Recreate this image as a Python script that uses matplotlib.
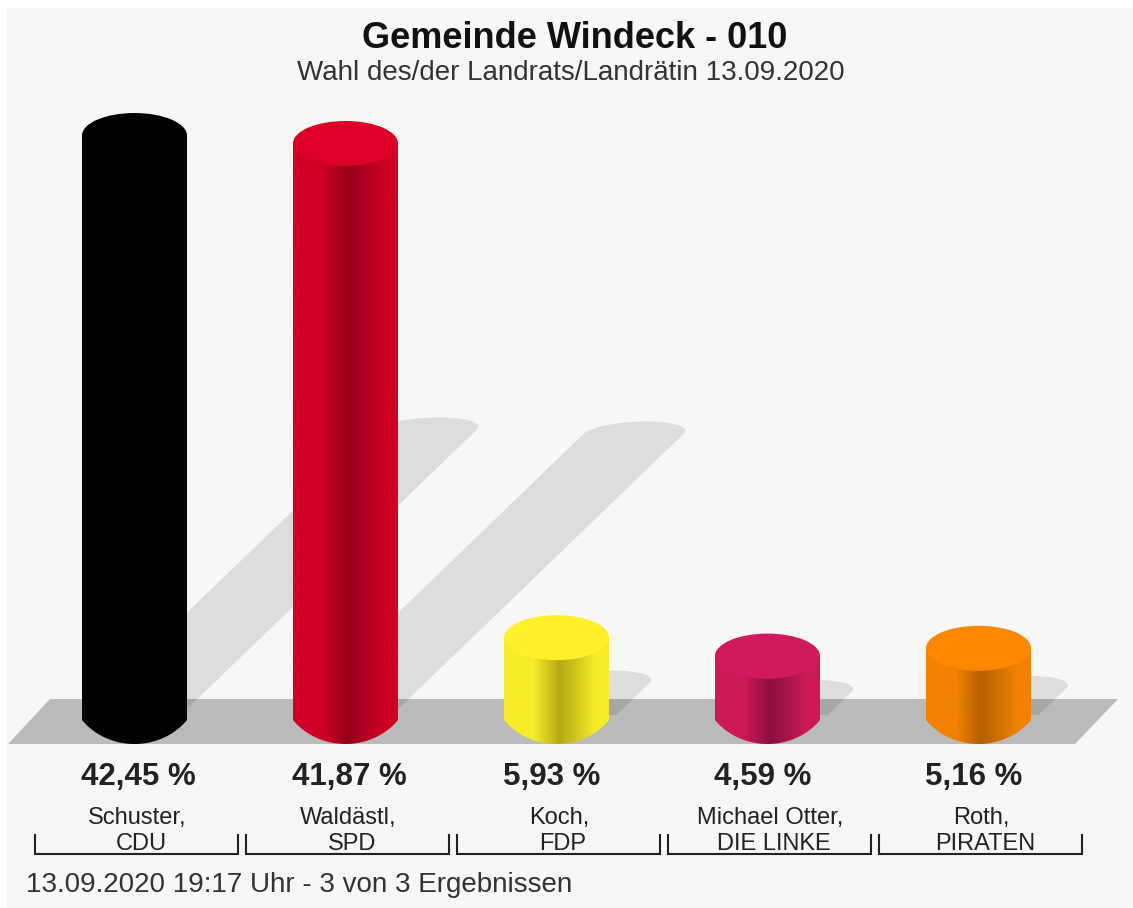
import numpy as np
import matplotlib
matplotlib.use('Agg')
import matplotlib.pyplot as plt
from matplotlib.patches import Polygon, Rectangle, Ellipse
from matplotlib.colors import LinearSegmentedColormap

plt.rcParams['font.family'] = ['Liberation Sans', 'DejaVu Sans']

# Data
candidates = ['Schuster,', 'Waldästl,', 'Koch,', 'Michael Otter,', 'Roth,']
parties = ['CDU', 'SPD', 'FDP', 'DIE LINKE', 'PIRATEN']
values = [42.45, 41.87, 5.93, 4.59, 5.16]
value_labels = ['42,45 %', '41,87 %', '5,93 %', '4,59 %', '5,16 %']
top_colors = ['#000000', '#dc0027', '#fff02a', '#d11a5b', '#ff8800']
side_colors = ['#000000', '#cf0024', '#f7ec28', '#cc1a58', '#f28200']
dark_colors = ['#000000', '#960018', '#b5a818', '#8c1040', '#b56000']

title = 'Gemeinde Windeck - 010'
subtitle = 'Wahl des/der Landrats/Landrätin 13.09.2020'
footer = '13.09.2020 19:17 Uhr - 3 von 3 Ergebnissen'

# Pixel layout of the picture
first_x = 134.5
step = 211
half_w = 52.5
ell_h = 22.5
bottom = 744
px_per_pct = 13.75
min_h = 47.3


def bar_height(v):
    return min_h + px_per_pct * v


fig = plt.figure(figsize=(11.33, 9.08), dpi=100, facecolor='white')
ax = fig.add_axes([0, 0, 1, 1])

# panel and floor
ax.add_patch(Rectangle((7, 8), 1126, 900, color='#f7f7f7', lw=0, zorder=0))
ax.add_patch(Polygon([(8, 744), (50, 699), (1118, 699), (1075, 744)], color='#bbbbbb', lw=0, zorder=1))

for i, v in enumerate(values):
    cx = first_x + i * step
    h = bar_height(v)

    # shadow falling to the back right, its foot stays hidden behind the bar
    tip_x = cx + 29.5 + 0.496 * h
    tip_y = 747.5 - 0.504 * h
    t = np.linspace(0, np.pi, 40)
    cap_x = tip_x - 50 + 50 * np.cos(t) + 12 * np.sin(t)
    cap_y = tip_y - 12 * np.sin(t)
    left_x = tip_x - 100
    pts = list(zip(cap_x, cap_y))
    if left_x > cx:
        pts.append((cx, tip_y + (left_x - cx) * 0.964))
    pts.append((cx, 715))
    pts.append((tip_x - (715 - tip_y) / 0.964, 715))
    ax.add_patch(Polygon(pts, color='black', alpha=0.1, lw=0, zorder=2))

    # cylinder side with gradient, bottom edge is a flat arc with a kink at the sides
    top_y = bottom - h + ell_h
    base_y = bottom - 24
    u = np.linspace(-1, 1, 80)
    arc = (np.sqrt(1 - (0.8 * u) ** 2) - 0.6) / 0.4
    body = [(cx - half_w, top_y)] + [(cx + half_w * a, base_y + 24 * b) for a, b in zip(u, arc)] + [(cx + half_w, top_y)]
    side = Polygon(body, closed=True, fc='none', ec='none', zorder=3)
    ax.add_patch(side)
    cmap = LinearSegmentedColormap.from_list('side', [(0, side_colors[i]), (0.28, side_colors[i]),
                                                      (0.53, dark_colors[i]), (0.88, side_colors[i]),
                                                      (1, side_colors[i])])
    img = ax.imshow(np.linspace(0, 1, 256)[None, :], cmap=cmap, aspect='auto', zorder=3,
                    extent=[cx - half_w, cx + half_w, bottom, top_y - ell_h])
    img.set_clip_path(side)
    ax.add_patch(Ellipse((cx, top_y), 2 * half_w, 2 * ell_h, color=top_colors[i], lw=0, zorder=4))

    # labels
    ax.text(81 + i * step, 777.5, value_labels[i], fontsize=22.5, fontweight='bold', color='#222222',
            ha='left', va='center', zorder=5)
    ax.text(cx + 2.5, 818, candidates[i], fontsize=17, color='#222222', ha='center', va='center', zorder=5)
    ax.text(cx + 6.5, 844, parties[i], fontsize=17, color='#222222', ha='center', va='center', zorder=5)

    # bracket under each candidate
    left = 35 + i * step
    ax.plot([left, left, left + 203, left + 203], [835, 854, 854, 835], color='#222222', lw=1.5,
            solid_joinstyle='miter', zorder=5)

ax.set_xlim(0, 1133)
ax.set_ylim(908, 0)
ax.axis('off')

ax.text(574.5, 39, title, fontsize=26, fontweight='bold', color='#111111', ha='center', va='center')
ax.text(571, 73, subtitle, fontsize=20, color='#333333', ha='center', va='center')
ax.text(26, 885, footer, fontsize=20, color='#333333', ha='left', va='center')

fig.savefig('out.png', dpi=100)
